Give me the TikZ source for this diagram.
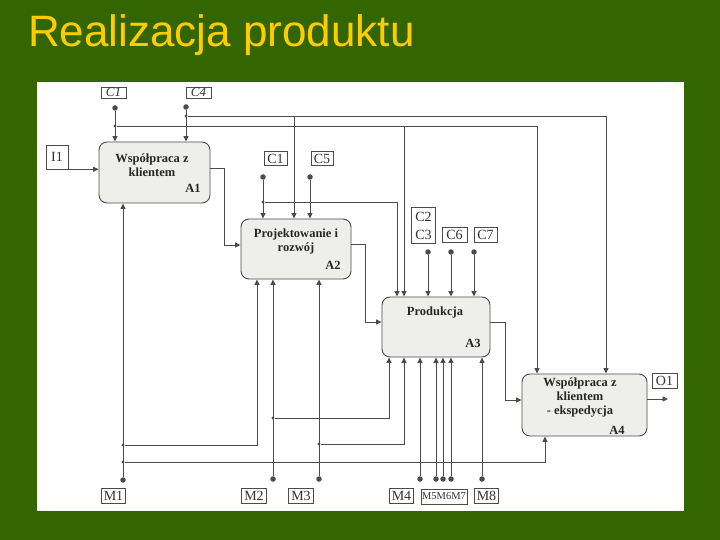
\documentclass[tikz,border=0pt]{standalone}
\usepackage{fontspec}
\setmainfont{Liberation Serif}
\newfontfamily\titlefont{Liberation Sans}
\usetikzlibrary{arrows.meta}
\definecolor{bggreen}{RGB}{51,102,0}
\definecolor{titleyellow}{RGB}{255,204,0}
\definecolor{lncol}{RGB}{75,75,75}
\definecolor{boxfill}{RGB}{238,238,235}
\begin{document}
\begin{tikzpicture}[x=1pt,y=-1pt,
  ln/.style={draw=lncol, line width=0.9pt},
  arr/.style={ln, -{Triangle[length=5.5pt,width=5pt]}},
  proc/.style={draw=lncol, line width=0.9pt, fill=boxfill, rounded corners=8pt, inner sep=0pt},
  ptext/.style={font=\bfseries\fontsize{12.5}{14}\selectfont, align=center, inner sep=0pt, text=black!85},
  lab/.style={draw=lncol, line width=0.6pt, inner sep=0pt, font=\fontsize{14}{18}\selectfont, align=center, text=black!80},
  bigdot/.style={circle, fill=lncol, inner sep=0pt, minimum size=5.5pt},
  smalldot/.style={circle, fill=lncol, inner sep=0pt, minimum size=3.2pt},
]
\useasboundingbox (0,0) rectangle (720,540);
\fill[bggreen] (0,0) rectangle (720,540);
\fill[white] (37,82) rectangle (684,511);
\node[anchor=base west, inner sep=0pt, font=\titlefont\fontsize{44}{44}\selectfont, text=titleyellow] (title) at (28,47) {Realizacja produktu};

% process boxes
\node[proc, minimum width=111pt, minimum height=61pt] (A1) at (154.5,172.5) {};
\node[proc, minimum width=110pt, minimum height=60pt] (A2) at (296,249) {};
\node[proc, minimum width=108pt, minimum height=60pt] (A3) at (436,327) {};
\node[proc, minimum width=125pt, minimum height=62pt] (A4) at (584.5,405) {};

\node[ptext] (A1t) at (152,165) {Współpraca z\\klientem};
\node[ptext] (A1n) at (193,188) {A1};
\node[ptext] (A2t) at (296,241) {Projektowanie i\\rozwój};
\node[ptext] (A2n) at (333,265) {A2};
\node[ptext] (A3t) at (435,312) {Produkcja};
\node[ptext] (A3n) at (473,343) {A3};
\node[ptext] (A4t) at (580,398) {Współpraca z\\klientem\\- ekspedycja};
\node[ptext] (A4n) at (617,430) {A4};

% labels
\node[lab, minimum width=25pt, minimum height=11pt, font=\itshape\fontsize{13}{13}\selectfont] (C1a) at (113.5,92.5) {C1};
\node[lab, minimum width=25pt, minimum height=11pt, font=\itshape\fontsize{13}{13}\selectfont] (C4) at (198.5,92.5) {C4};
\node[lab, minimum width=22pt, minimum height=24pt] (I1) at (57,157) {I1};
\node[lab, minimum width=23pt, minimum height=14pt] (C1b) at (275.5,158.5) {C1};
\node[lab, minimum width=22pt, minimum height=14pt] (C5) at (322,158.5) {C5};
\node[lab, minimum width=24pt, minimum height=36pt] (C23) at (423.5,225.5) {C2\\C3};
\node[lab, minimum width=25pt, minimum height=15pt] (C6) at (454.5,234.5) {C6};
\node[lab, minimum width=23pt, minimum height=15pt] (C7) at (485.5,234.5) {C7};
\node[lab, minimum width=25pt, minimum height=15pt] (O1) at (664.5,380.5) {O1};
\node[lab, minimum width=24pt, minimum height=15pt] (M1) at (113.5,496) {M1};
\node[lab, minimum width=25pt, minimum height=15pt] (M2) at (254,496) {M2};
\node[lab, minimum width=25pt, minimum height=15pt] (M3) at (301,496) {M3};
\node[lab, minimum width=24pt, minimum height=15pt] (M4) at (401.5,496) {M4};
\node[lab, minimum width=46pt, minimum height=15pt, font=\fontsize{10.5}{10.5}\selectfont] (M567) at (444,496.5) {M5M6M7};
\node[lab, minimum width=24pt, minimum height=15pt] (M8) at (486.5,496) {M8};

% dots
\node[bigdot] (dC1a) at (115,108) {};
\node[smalldot] (jC1a) at (115,126) {};
\node[bigdot] (dC4) at (186,107) {};
\node[smalldot] (jC4) at (186,116) {};
\node[bigdot] (dC1b) at (263,177) {};
\node[smalldot] (jC1b) at (263,202) {};
\node[bigdot] (dC5) at (310,177) {};
\node[bigdot] (dC23) at (428,252) {};
\node[bigdot] (dC6) at (451,252) {};
\node[bigdot] (dC7) at (474,252) {};
\node[bigdot] (dM1) at (123,480) {};
\node[smalldot] (jM1a) at (123,445) {};
\node[smalldot] (jM1b) at (123,462) {};
\node[bigdot] (dM2) at (273,479) {};
\node[smalldot] (jM2) at (273,418) {};
\node[bigdot] (dM3) at (319,479) {};
\node[smalldot] (jM3) at (319,444) {};
\node[bigdot] (dM4) at (420,479) {};
\node[bigdot] (dM5) at (436,479) {};
\node[bigdot] (dM6) at (443,479) {};
\node[bigdot] (dM7) at (451,479) {};
\node[bigdot] (dM8) at (482,479) {};

% bend coordinates
\coordinate (k1) at (537,126);
\coordinate (k2) at (404,126);
\coordinate (k3) at (606,116);
\coordinate (k4) at (294,116);
\coordinate (k5) at (397,202);
\coordinate (p1) at (224,168);
\coordinate (p2) at (224,245);
\coordinate (p3) at (365,244);
\coordinate (p4) at (365,322);
\coordinate (p5) at (505,322);
\coordinate (p6) at (505,400);
\coordinate (o1end) at (668,399);
\coordinate (q1) at (257,445);
\coordinate (q2) at (545,462);
\coordinate (q3) at (389,418);
\coordinate (q4) at (404,444);

% controls
\draw[arr] (dC1a) -- (dC1a |- A1.north);
\draw[arr] (dC4) -- (dC4 |- A1.north);
\draw[arr] (jC1a) -- (k1) -- (k1 |- A4.north);
\draw[arr] (k2) -- (k2 |- A3.north);
\draw[arr] (jC4) -- (k3) -- (k3 |- A4.north);
\draw[arr] (k4) -- (k4 |- A2.north);
\draw[arr] (dC1b) -- (dC1b |- A2.north);
\draw[arr] (jC1b) -- (k5) -- (k5 |- A3.north);
\draw[arr] (dC5) -- (dC5 |- A2.north);
\draw[arr] (dC23) -- (dC23 |- A3.north);
\draw[arr] (dC6) -- (dC6 |- A3.north);
\draw[arr] (dC7) -- (dC7 |- A3.north);

% flows
\draw[arr] (I1.south east) -- (I1.south east -| A1.west);
\draw[arr] (p1 -| A1.east) -- (p1) -- (p2) -- (p2 -| A2.west);
\draw[arr] (p3 -| A2.east) -- (p3) -- (p4) -- (p4 -| A3.west);
\draw[arr] (p5 -| A3.east) -- (p5) -- (p6) -- (p6 -| A4.west);
\draw[arr] (o1end -| A4.east) -- (o1end);

% mechanisms
\draw[arr] (dM1) -- (dM1 |- A1.south);
\draw[arr] (jM1a) -- (q1) -- (q1 |- A2.south);
\draw[arr] (jM1b) -- (q2) -- (q2 |- A4.south);
\draw[arr] (dM2) -- (dM2 |- A2.south);
\draw[arr] (jM2) -- (q3) -- (q3 |- A3.south);
\draw[arr] (dM3) -- (dM3 |- A2.south);
\draw[arr] (jM3) -- (q4) -- (q4 |- A3.south);
\draw[arr] (dM4) -- (dM4 |- A3.south);
\draw[arr] (dM5) -- (dM5 |- A3.south);
\draw[arr] (dM6) -- (dM6 |- A3.south);
\draw[arr] (dM7) -- (dM7 |- A3.south);
\draw[arr] (dM8) -- (dM8 |- A3.south);
\end{tikzpicture}
\end{document}
